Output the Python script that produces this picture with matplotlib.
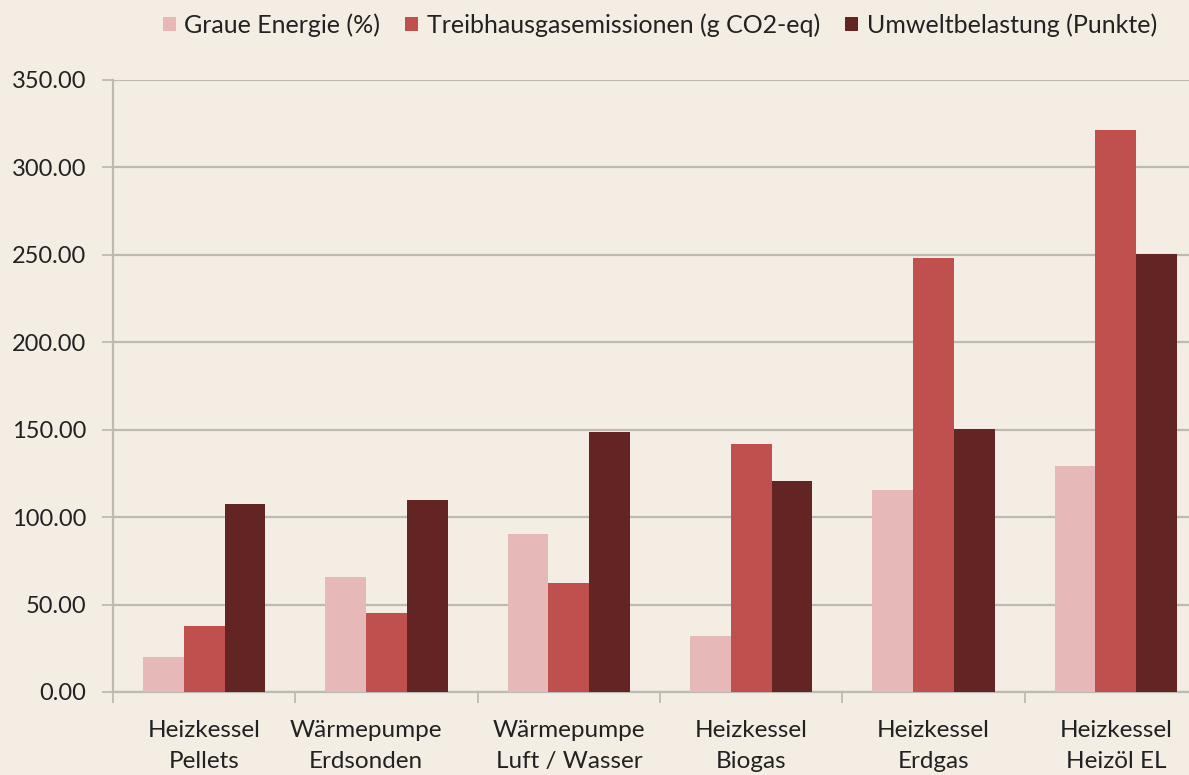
import matplotlib.pyplot as plt
from matplotlib.transforms import ScaledTranslation
import numpy as np

kategorien = ["Heizkessel\nPellets", "Wärmepumpe\nErdsonden", "Wärmepumpe\nLuft / Wasser",
              "Heizkessel\nBiogas", "Heizkessel\nErdgas", "Heizkessel\nHeizöl EL"]
graue_energie = [20.0, 65.8, 90.4, 32.0, 115.5, 129.2]
treibhausgas = [37.5, 45.0, 62.3, 141.8, 248.2, 321.4]
umweltbelastung = [107.5, 110.0, 148.7, 120.7, 150.4, 250.5]
serien = ["Graue Energie (%)", "Treibhausgasemissionen (g CO2-eq)", "Umweltbelastung (Punkte)"]
farben = ["#E6B9B8", "#C0504D", "#632523"]

bg = "#F4EDE4"
grid = "#BDBAB5"

plt.rcParams['font.family'] = ['Lato', 'DejaVu Sans']

fig = plt.figure(figsize=(11.89, 7.75), dpi=100, facecolor=bg)
ax = fig.add_axes([113/1189, 83/775, 1094/1189, 612/775], facecolor=bg)

x = np.arange(len(kategorien))
b = 0.2236
for i, (werte, farbe, name) in enumerate(zip([graue_energie, treibhausgas, umweltbelastung], farben, serien)):
    ax.bar(x + (i - 1) * b, werte, width=b, color=farbe, label=name, zorder=3)

ax.set_xlim(-0.5, len(kategorien) - 0.5)
ax.set_ylim(0, 350)
ax.set_yticks(np.arange(0, 351, 50))
ax.set_yticklabels([f"{v:.2f}" for v in np.arange(0, 351, 50)])
ax.yaxis.grid(True, color=grid, linewidth=1.6, zorder=0)
ax.set_axisbelow(True)

ax.set_xticks(x)
ax.set_xticklabels(kategorien, fontsize=17.5, color="#222222", linespacing=1.6)
ax.set_xticks(np.arange(-0.5, len(kategorien)), minor=True)
ax.tick_params(axis='x', which='major', length=0, pad=20)
ax.tick_params(axis='x', which='minor', length=8, width=1.3, color=grid)
ax.tick_params(axis='y', length=8, width=1.3, color=grid, labelsize=17, labelcolor="#222222", pad=11)

# Beschriftung "Wärmepumpe Erdsonden" sitzt im Original etwas links
lbl = ax.get_xticklabels()[1]
lbl.set_transform(lbl.get_transform() + ScaledTranslation(-0.21, 0, fig.dpi_scale_trans))

for s in ["top", "right"]:
    ax.spines[s].set_visible(False)
for s in ["left", "bottom"]:
    ax.spines[s].set_color(grid)
    ax.spines[s].set_linewidth(1.6)

fig.legend(loc="upper center", bbox_to_anchor=(660/1189, 1.012), ncol=3, frameon=False,
           fontsize=18, handlelength=0.52, handleheight=0.52, handletextpad=0.35,
           columnspacing=1.0, labelcolor="#222222")

fig.savefig("out.png", dpi=100, facecolor=bg)
